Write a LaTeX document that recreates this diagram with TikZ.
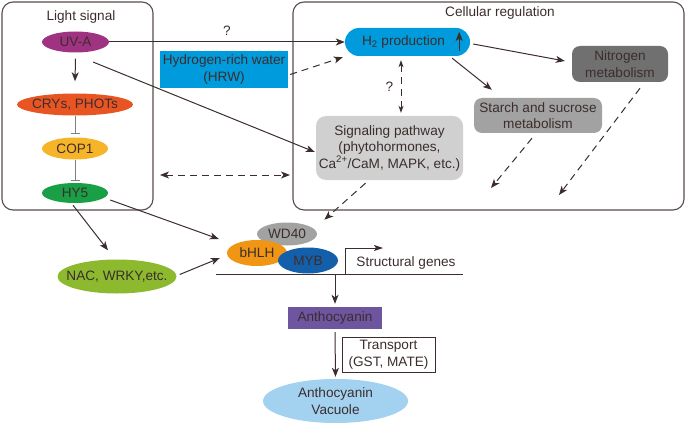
\documentclass[tikz,border=0pt]{standalone}
\usepackage{fontspec}
\setmainfont{Liberation Sans}
\usetikzlibrary{arrows.meta,shapes.geometric}
\definecolor{ink}{RGB}{60,45,45}
\definecolor{uvapurple}{RGB}{160,50,130}
\definecolor{cryred}{RGB}{232,85,35}
\definecolor{copyellow}{RGB}{246,180,40}
\definecolor{hygreen}{RGB}{25,160,70}
\definecolor{waterblue}{RGB}{0,155,220}
\definecolor{nitrogray}{RGB}{112,112,112}
\definecolor{starchgray}{RGB}{162,162,162}
\definecolor{signalgray}{RGB}{208,208,208}
\definecolor{nacgreen}{RGB}{140,185,45}
\definecolor{bhlhorange}{RGB}{240,150,20}
\definecolor{mybblue}{RGB}{20,95,170}
\definecolor{anthopurple}{RGB}{110,85,160}
\definecolor{vacuoleblue}{RGB}{162,210,240}

\begin{document}
\begin{tikzpicture}[x=1pt, y=-1pt,
    every node/.style={font=\fontsize{13.6}{16.5}\selectfont, text=ink},
    panel/.style={draw=ink!85, line width=1.1pt, rounded corners=11pt},
    oval/.style={ellipse, draw=none, inner sep=0pt},
    tile/.style={rectangle, draw=none, inner sep=0pt, align=center},
    link/.style={draw=ink, line width=1pt, -{Stealth[length=9pt,width=7pt,inset=2.5pt]}},
    hint/.style={link, dash pattern=on 7pt off 5pt},
    block/.style={draw=gray, line width=1pt, -{Bar[width=9pt]}}]
            % Frame to fix the page size:
            \useasboundingbox (0,0) rectangle (685,425);

            % Light signal panel
            \node[panel, minimum width=151, minimum height=208] (lightpanel) at ( 77.5, 106.0) {};
            \node (lighttitle)                                          at ( 81.0,  17.0) {Light signal};
            \node[oval, fill=uvapurple,  minimum width=67,  minimum height=21, label=center:UV-A]            (uva)  at ( 75.5,  42.0) {};
            \node[oval, fill=cryred,     minimum width=116, minimum height=22, label={center:CRYs, PHOTs}]  (crys) at ( 75.0, 104.5) {};
            \node[oval, fill=copyellow,  minimum width=66,  minimum height=22, label=center:COP1]            (cop1) at ( 75.0, 148.5) {};
            \node[oval, fill=hygreen,    minimum width=66,  minimum height=20, label=center:HY5]             (hy5)  at ( 75.0, 193.0) {};
            \draw[link]  ([shift={(0,6)}]uva.south) -- ([shift={(0,-12)}]crys.north);
            \draw[block] (crys.south) -- ([shift={(0,-3)}]cop1.north);
            \draw[block] (cop1.south) -- ([shift={(0,-2)}]hy5.north);

            % Cellular regulation panel
            \node[panel, minimum width=391, minimum height=208] (cellpanel) at (488.5, 106.0) {};
            \node (celltitle)                                          at (500.0,  13.0) {Cellular regulation};
            \node[tile, fill=waterblue, rounded corners=14pt, minimum width=125, minimum height=28] (h2)     at (407.5,  42.0) {H\textsubscript{2} production\hspace{8pt}};
            \node[tile, fill=nitrogray,  rounded corners=8pt,  minimum width=96,  minimum height=36] (nitro)  at (620.0,  64.0) {Nitrogen\\metabolism};
            \node[tile, fill=starchgray, rounded corners=8pt,  minimum width=128, minimum height=35] (starch) at (538.0, 115.5) {Starch and sucrose\\metabolism};
            \node[tile, fill=signalgray, rounded corners=10pt, minimum width=147, minimum height=64] (signal) at (389.5, 148.0) {Signaling pathway\\(phytohormones,\\Ca\textsuperscript{2+}/CaM, MAPK, etc.)};
            \draw[link, line width=1.3pt, -{Stealth[length=9pt,width=7pt,inset=2pt]}] ([shift={(-11,-5)}]h2.south east) -- ([shift={(-11,4)}]h2.north east);

            % Hydrogen-rich water
            \node[tile, fill=waterblue, minimum width=128, minimum height=37] (hrw) at (224.0, 69.5) {Hydrogen-rich water\\(HRW)};

            % Free ends of the open connectors
            \coordinate (uvaout)     at ( 93.0,  62.0);
            \coordinate (crossleft)  at (160.0, 175.0);
            \coordinate (crossright) at (290.0, 175.0);
            \coordinate (starchend)  at (491.0, 188.0);
            \coordinate (nitroend)   at (559.0, 195.0);

            % Complex and gene
            \node[oval, fill=starchgray,  minimum width=60, minimum height=23, label=center:WD40] (wd40) at (287.0, 234.0) {};
            \node[oval, fill=bhlhorange,  minimum width=60, minimum height=26, label=center:bHLH] (bhlh) at (257.0, 253.0) {};
            \node[oval, fill=mybblue,     minimum width=60, minimum height=26, label=center:MYB]  (myb)  at (308.0, 260.5) {};
            \node[oval, fill=nacgreen,    minimum width=119, minimum height=34, label={center:NAC, WRKY,etc.}] (nac) at (117.0, 276.5) {};
            \coordinate (genel)  at (216.0, 274.0);
            \coordinate (gener)  at (463.0, 274.0);
            \coordinate (tss)    at (345.0, 274.0);
            \coordinate (tssend) at (383.0, 248.0);
            \draw[ink, line width=1pt] (genel) -- (gener);
            \draw[link, -{Stealth[length=9pt,width=6pt,inset=2pt]}] (tss) |- (tssend);
            \node (genes) at (406.0, 263.0) {Structural genes};

            % Anthocyanin
            \node[tile, fill=anthopurple, minimum width=94, minimum height=22] (antho) at (335.0, 318.0) {Anthocyanin};
            \node[tile, draw=ink, line width=1pt, fill=white, minimum width=93, minimum height=35] (transport) at (388.5, 354.5) {Transport\\(GST, MATE)};
            \node[oval, fill=vacuoleblue, minimum width=145, minimum height=44, align=center, label={[align=center]center:Anthocyanin\\Vacuole}] (vacuole) at (335.5, 401.0) {};
            \draw[link] (antho |- genel) -- ([shift={(0,-3)}]antho.north);
            \draw[link] ([shift={(0,3)}]antho.south) -- ([shift={(0,-2)}]vacuole.north);

            % Connectors
            \draw[link] (uva.east) -- node[above=3pt] {?} (h2.west);
            \draw[hint] ([shift={(2,5)}]hrw.east) -- ([shift={(-2,1)}]h2.south west);
            \draw[link] ([shift={(3,2)}]h2.east) -- ([shift={(-7,-3)}]nitro.west);
            \draw[link] ([shift={(-18,2)}]h2.south east) -- ([shift={(18,-8)}]starch.north west);
            \draw[hint, {Stealth[length=7pt,width=5pt,inset=2pt]}-{Stealth[length=7pt,width=5pt,inset=2pt]}]
                 ([shift={(-6.5,4)}]h2.south) -- node[left=4pt] {?} ([shift={(11.5,-3)}]signal.north);
            \draw[link] (uvaout) -- ([shift={(-1,4)}]signal.west);
            \draw[hint, <->, >={Stealth[length=9pt,width=7pt,inset=2.5pt]}] (crossleft) -- (crossright);
            \draw[hint] ([shift={(-6,5)}]starch.south) -- (starchend);
            \draw[hint] ([shift={(20,6)}]nitro.south) -- (nitroend);
            \draw[hint] ([shift={(-24,3)}]signal.south) -- ([shift={(16,-6)}]wd40.north east);
            \draw[link] ([shift={(2,7)}]hy5.east) -- ([shift={(-8,-14)}]bhlh.west);
            \draw[link] ([shift={(-2,2)}]hy5.south) -- ([shift={(-9,-9)}]nac.north);
            \draw[link] ([shift={(3,-2)}]nac.east) -- ([shift={(-7,5)}]bhlh.west);
        \end{tikzpicture}
\end{document}
